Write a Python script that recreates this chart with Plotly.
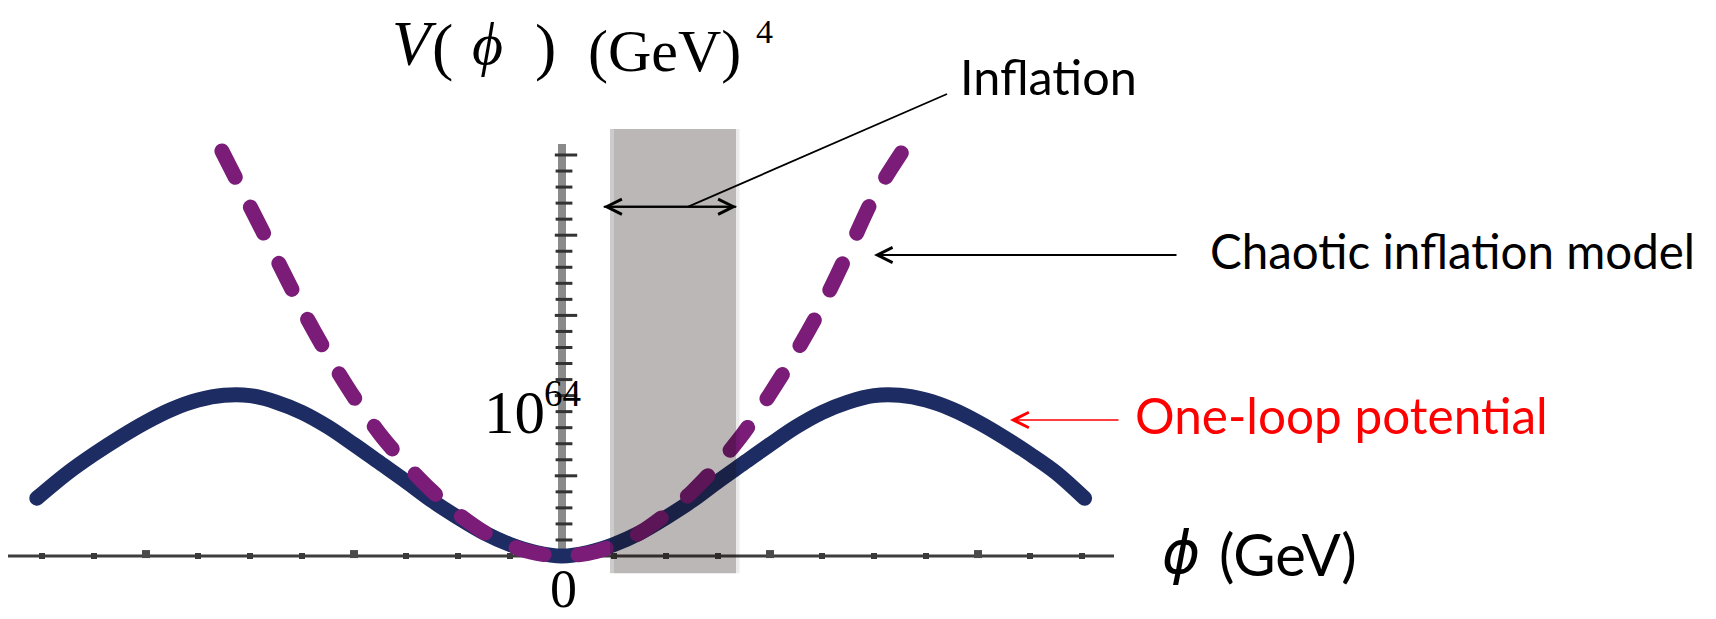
import plotly.graph_objects as go

# ---------------- data ----------------
# One-loop potential (solid navy), x in tick units, y in tick units
loop_x = [-10.1, -9.5, -9.0, -8.5, -8.0, -7.5, -7.0, -6.5, -6.0, -5.5, -5.0, -4.5,
          -4.0, -3.5, -3.0, -2.5, -2.0, -1.5, -1.0, -0.5, 0.0,
          0.5, 1.0, 1.5, 2.0, 2.5, 3.0, 3.5, 4.0, 4.5, 5.0, 5.5, 6.0, 6.5,
          7.0, 7.5, 8.0, 8.5, 9.0, 9.5, 10.05]
loop_y = [3.6, 5.2, 6.35, 7.4, 8.35, 9.15, 9.72, 10.02, 10.0, 9.6, 8.95, 8.05,
          6.95, 5.8, 4.65, 3.45, 2.4, 1.45, 0.72, 0.22, 0.0,
          0.22, 0.72, 1.45, 2.4, 3.45, 4.65, 5.8, 6.95, 8.05, 8.95, 9.6, 10.0, 10.02,
          9.72, 9.15, 8.35, 7.4, 6.35, 5.2, 3.6]

# Chaotic inflation model (dashed purple)
chaotic_x = [-6.54, -6.0, -5.5, -5.0, -4.5, -4.0, -3.5, -3.0, -2.5, -2.0, -1.5, -1.0, -0.5, 0.0,
             0.5, 1.0, 1.5, 2.0, 2.5, 3.0, 3.5, 4.0, 4.5, 5.0, 5.5, 6.0, 6.56]
chaotic_y = [25.25, 21.8, 18.6, 15.4, 12.5, 9.9, 7.6, 5.7, 4.05, 2.62, 1.48, 0.66, 0.17, 0.0,
             0.17, 0.65, 1.45, 2.6, 4.0, 5.7, 7.7, 10.1, 12.7, 15.6, 18.95, 22.4, 25.3]

# axis ticks
x_ticks_minor = [-10, -9, -7, -6, -5, -3, -2, -1, 1, 2, 3, 5, 6, 7, 9, 10]
x_ticks_major = [-8, -4, 4, 8]
y_ticks_minor = [1, 2, 3, 4, 6, 7, 8, 9, 11, 12, 13, 14, 16, 17, 18, 19, 21, 22, 23, 24]
y_ticks_major = [5, 10, 15, 20, 25]

# labels
y_title_parts = ["V", "(", "ϕ", ")", "(GeV)", "4"]
x_title_parts = ["ϕ", "(GeV)"]
tick_label_y = ["10", "64"]
tick_label_x = "0"
label_inflation = "Inflation"
label_chaotic = "Chaotic inflation model"
label_loop = "One-loop potential"

# ---------------- geometry helpers ----------------
W, H = 1716, 619
BODY = 8                      # default page margin around the plot div
X0_PX, Y0_PX = 562.0, 556.0   # page pixel of data origin
XU, YU = 52.0, 16.04          # pixels per unit


def dx(p):
    return (p - X0_PX) / XU


def dy(p):
    return (Y0_PX - p) / YU


NAVY = "#1d2c62"
PURPLE = "#7a1c78"

fig = go.Figure()

# ticks on x axis
fig.add_trace(go.Scatter(x=x_ticks_minor, y=[0] * len(x_ticks_minor), mode="markers",
                         marker=dict(symbol="square", size=6, color="#3a3a3a", line=dict(width=0)),
                         hoverinfo="skip", showlegend=False))
fig.add_trace(go.Scatter(x=x_ticks_major, y=[0.12] * len(x_ticks_major), mode="markers",
                         marker=dict(symbol="square", size=8, color="#4a4a4a", line=dict(width=0)),
                         hoverinfo="skip", showlegend=False))
# ticks on y axis
fig.add_trace(go.Scatter(x=[dx(564)] * len(y_ticks_minor), y=y_ticks_minor, mode="markers",
                         marker=dict(symbol="line-ew", size=12, line=dict(width=3, color="#333333")),
                         hoverinfo="skip", showlegend=False))
fig.add_trace(go.Scatter(x=[dx(566)] * len(y_ticks_major), y=y_ticks_major, mode="markers",
                         marker=dict(symbol="line-ew", size=16, line=dict(width=3, color="#333333")),
                         hoverinfo="skip", showlegend=False))

# curves
fig.add_trace(go.Scatter(x=loop_x, y=loop_y, mode="lines",
                         line=dict(color=NAVY, width=15, shape="spline", smoothing=1.0),
                         hoverinfo="skip", showlegend=False))
fig.add_trace(go.Scatter(x=chaotic_x, y=chaotic_y, mode="lines",
                         line=dict(color=PURPLE, width=15, shape="spline", smoothing=0.8,
                                   dash="29px,34px"),
                         hoverinfo="skip", showlegend=False))

shapes = [
    # x axis
    dict(type="line", x0=dx(8), x1=dx(1114), y0=0, y1=0,
         line=dict(color="#3d3d3d", width=3), layer="below"),
    # y axis
    dict(type="line", x0=0, x1=0, y0=0, y1=dy(144),
         line=dict(color="#8a8a8a", width=8), layer="below"),
    # inflation band
    dict(type="rect", x0=dx(614), x1=dx(736), y0=dy(573.3), y1=dy(129),
         fillcolor="rgba(20,6,5,0.29)", line=dict(width=0), layer="above"),
    dict(type="rect", x0=dx(610), x1=dx(614), y0=dy(573.3), y1=dy(129),
         fillcolor="rgba(0,0,0,0.2)", line=dict(width=0), layer="above"),
    dict(type="rect", x0=dx(736), x1=dx(739.5), y0=dy(573.3), y1=dy(129),
         fillcolor="rgba(0,0,0,0.08)", line=dict(width=0), layer="above"),
    # pointer line to "Inflation"
    dict(type="line", x0=dx(688.3), y0=dy(206.7), x1=dx(947), y1=dy(94),
         line=dict(color="black", width=1.8), layer="above"),
]


def text_ann(text, cx, cy, size, family, color="black", italic=False):
    t = f"<i>{text}</i>" if italic else text
    return dict(text=t, x=dx(cx), y=dy(cy), xref="x", yref="y", showarrow=False,
                xanchor="center", yanchor="middle",
                font=dict(size=size, family=family, color=color))


def arrow_ann(head, tail, color, width, size):
    return dict(text="", x=dx(head[0]), y=dy(head[1]), ax=dx(tail[0]), ay=dy(tail[1]),
                xref="x", yref="y", axref="x", ayref="y", showarrow=True,
                arrowhead=5, arrowsize=size, arrowwidth=width, arrowcolor=color,
                standoff=0, startstandoff=0, borderpad=0, font=dict(size=1))


annotations = [
    # y-axis title
    text_ann(y_title_parts[0], 414, 44, 63, "Liberation Serif", italic=True),
    text_ann(y_title_parts[1], 442.5, 46, 64, "Liberation Serif"),
    text_ann(y_title_parts[2], 487, 44, 60, "Liberation Serif", italic=True),
    text_ann(y_title_parts[3], 545, 46, 64, "Liberation Serif"),
    text_ann(y_title_parts[4], 664, 51, 60, "Liberation Serif"),
    text_ann(y_title_parts[5], 764, 31.5, 34, "Liberation Serif"),
    # x-axis title
    text_ann(x_title_parts[0], 1181, 553, 58, "DejaVu Sans", italic=True),
    text_ann(x_title_parts[1], 1287.5, 553.4, 58, "Lato"),
    # tick labels
    text_ann(tick_label_y[0], 514, 412.9, 61, "Liberation Serif"),
    text_ann(tick_label_y[1], 562.3, 393.9, 37, "Liberation Serif"),
    text_ann(tick_label_x, 563, 589, 54, "Liberation Serif"),
    # callouts
    text_ann(label_inflation, 1048.5, 76, 48.5, "Lato"),
    text_ann(label_chaotic, 1452, 250, 47.5, "Lato"),
    text_ann(label_loop, 1341.5, 415, 49.5, "Lato", color="#ff0000"),
    # arrows
    arrow_ann((603.3, 206.7), (736.7, 206.7), "black", 2, 1.5),
    arrow_ann((736.7, 206.7), (603.3, 206.7), "black", 2, 1.5),
    arrow_ann((874, 255), (1177, 255), "black", 2, 1.5),
    arrow_ann((1010, 420), (1119, 420), "#ff0000", 1.6, 1.9),
]

fig.update_layout(
    width=W - BODY, height=H - BODY,
    margin=dict(l=0, r=0, t=0, b=0),
    paper_bgcolor="white", plot_bgcolor="white",
    xaxis=dict(range=[dx(BODY), dx(W)], visible=False, fixedrange=True),
    yaxis=dict(range=[dy(H), dy(BODY)], visible=False, fixedrange=True),
    shapes=shapes,
    annotations=annotations,
    showlegend=False,
)

post = ("document.querySelectorAll('.scatterlayer .js-line').forEach(function(p){"
        "p.style.strokeLinecap='round';p.style.strokeLinejoin='round';});")

fig.write_html("out.html", config={"displayModeBar": False, "staticPlot": True},
               post_script=post)
